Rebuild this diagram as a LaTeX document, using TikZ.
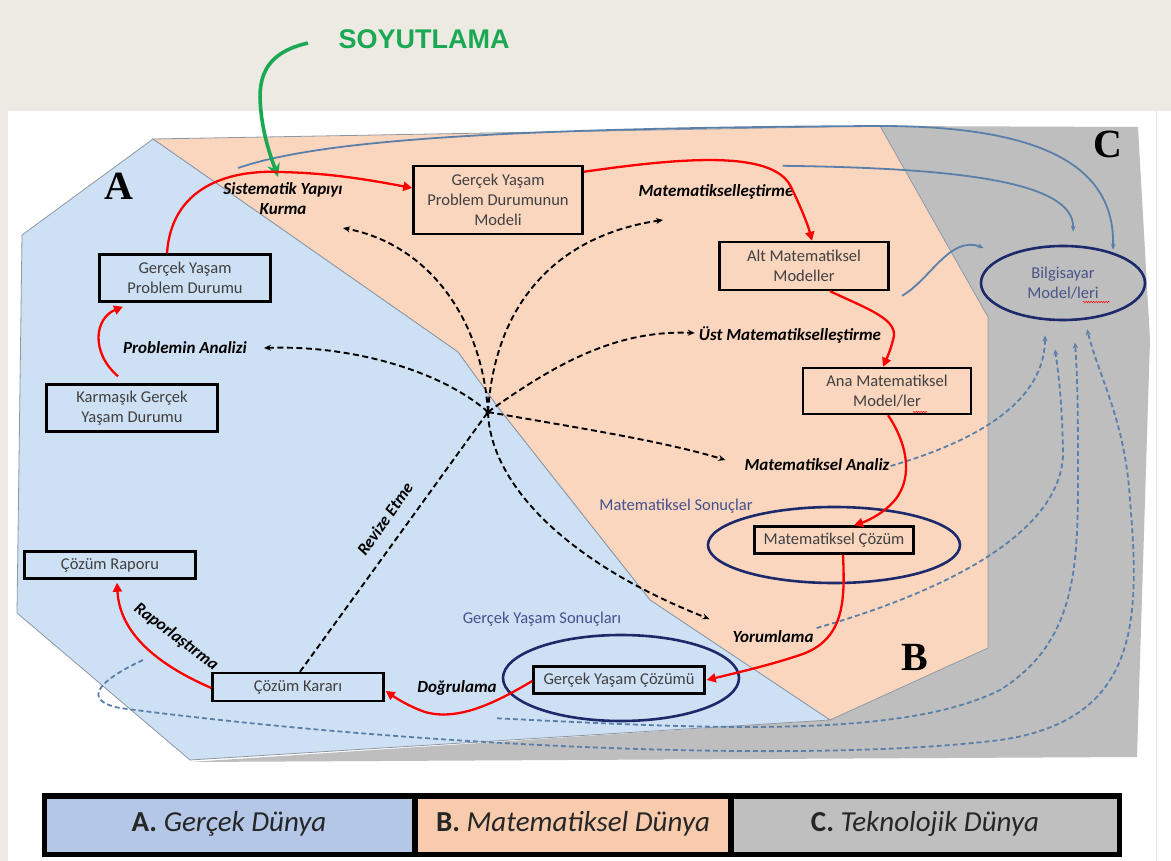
\documentclass[tikz,border=0pt]{standalone}
\usepackage{fontspec}
\setmainfont{Carlito}
\newfontfamily\headfont{Liberation Sans}
\newfontfamily\letterfont{Liberation Serif}
\usetikzlibrary{arrows.meta,shapes.geometric,calc,decorations.pathmorphing}

\definecolor{bandbg}{HTML}{EDEAE4}
\definecolor{realfill}{HTML}{CEE0F3}
\definecolor{mathfill}{HTML}{FAD6BF}
\definecolor{techfill}{HTML}{BEBEBE}
\definecolor{boxtext}{HTML}{404040}
\definecolor{navy}{HTML}{1C2A6B}
\definecolor{steel}{HTML}{5A80AA}
\definecolor{soygreen}{HTML}{1BA853}
\definecolor{legA}{HTML}{B4C7E7}
\definecolor{legB}{HTML}{F8CBAD}
\definecolor{legC}{HTML}{BFBFBF}
\definecolor{edgegray}{HTML}{8E98A4}
\definecolor{ringtext}{HTML}{44508F}

\tikzset{
  box/.style={draw=black, line width=2.4pt, inner sep=0pt, align=center,
    text=boxtext, font=\fontsize{16.5}{20}\selectfont},
  redarrow/.style={draw=red, line width=2.3pt, -{Triangle[length=9pt,width=9pt]}},
  hubline/.style={draw=black, line width=1.9pt, dash pattern=on 6pt off 3.5pt,
    -{Stealth[length=7pt,width=6pt]}},
  techline/.style={draw=steel, line width=1.8pt, -{Stealth[length=6pt,width=5pt]}},
  techdash/.style={techline, dash pattern=on 5pt off 3pt},
  act/.style={font=\fontsize{17}{20}\selectfont\bfseries\itshape, text=black, align=center, inner sep=1pt},
  ring/.style={ellipse, draw=navy, line width=2.6pt, inner sep=0pt},
  ringlabel/.style={font=\fontsize{16.5}{20}\selectfont, text=ringtext, align=center},
  worldletter/.style={font=\letterfont\bfseries\fontsize{40}{40}\selectfont, text=black},
  region/.style={draw=edgegray, line width=0.8pt},
  legcell/.style={font=\fontsize{29}{32}\selectfont, text=black!85},
  spell/.style={draw=red, line width=0.5pt, decorate,
    decoration={zigzag, amplitude=0.7pt, segment length=2.5pt}}
}

\begin{document}
\begin{tikzpicture}[x=1pt,y=-1pt]
\useasboundingbox (0,0) rectangle (1171,861);

% page background
\fill[white] (0,0) rectangle (1171,861);
\fill[bandbg] (0,0) rectangle (1171,111);
\fill[bandbg] (0,111) rectangle (8,861);
\draw[black!10, line width=0.6pt] (1156,111) -- (1156,861);

% the three worlds
\fill[techfill] (880,126) -- (1138,127) -- (1150,340) -- (1137,757) -- (190,762)
  -- (830,720) -- (988,648) -- (988,317) -- cycle;
\filldraw[fill=mathfill, region] (153,139) -- (880,126) -- (988,317) -- (988,648)
  -- (830,720) -- (650,600) -- (500,410) -- (458,352) -- cycle;
\filldraw[fill=realfill, region] (153,139) -- (458,352) -- (500,410) -- (650,600)
  -- (830,720) -- (190,760) -- (17,613) -- (22,235) -- cycle;

\node[worldletter] (wa) at (119,186) {A};
\node[worldletter] (wb) at (915,657) {B};
\node[worldletter] (wc) at (1108,144) {C};

% abstraction label
\node[font=\headfont\bfseries\fontsize{27}{30}\selectfont, text=soygreen] (soy) at (424,39) {SOYUTLAMA};

% result ellipses
\node[ring, minimum width=252pt, minimum height=76pt] (msr) at (834,545) {};
\node[ring, minimum width=236pt, minimum height=86pt] (gsr) at (621,678) {};
\node[ringlabel] (msl) at (676,506) {Matematiksel Sonuçlar};
\node[ringlabel] (gsl) at (542,619) {Gerçek Yaşam Sonuçları};

% computer models
\node[ring, minimum width=164pt, minimum height=74pt, ringlabel, text=navy!80!white] (bm) at (1063,283) {Bilgisayar\\Model/leri};
\draw[spell] (1083,302) -- (1110,302);

% boxes
\node[box, minimum width=171pt, minimum height=47pt] (karm) at (132,408) {Karmaşık Gerçek\\Yaşam Durumu};
\node[box, minimum width=171pt, minimum height=47pt] (gypd) at (185,278) {Gerçek Yaşam\\Problem Durumu};
\node[box, minimum width=169pt, minimum height=68pt] (model) at (498,200) {Gerçek Yaşam\\Problem Durumunun\\Modeli};
\node[box, minimum width=169pt, minimum height=48pt] (alt) at (804,266) {Alt Matematiksel\\Modeller};
\node[box, minimum width=168pt, minimum height=46pt] (ana) at (887,391) {Ana Matematiksel\\Model/ler};
\draw[spell] (913,412) -- (927,412);
\node[box, minimum width=159pt, minimum height=27pt] (matc) at (834,540) {Matematiksel Çözüm};
\node[box, minimum width=171pt, minimum height=27pt] (gyc) at (619,680) {Gerçek Yaşam Çözümü};
\node[box, minimum width=171pt, minimum height=28pt] (ck) at (298,687) {Çözüm Kararı};
\node[box, minimum width=171pt, minimum height=27pt] (rapor) at (110,565) {Çözüm Raporu};

% process labels
\node[act] (sys) at (283,199) {Sistematik Yapıyı\\Kurma};
\node[act] (pa) at (185,348) {Problemin Analizi};
\node[act] (mat) at (716,192) {Matematikselleştirme};
\node[act] (ust) at (790,335) {Üst Matematikselleştirme};
\node[act] (man) at (817,465) {Matematiksel Analiz};
\node[act] (yor) at (773,637) {Yorumlama};
\node[act] (dog) at (457,688) {Doğrulama};
\node[act, rotate=-37] (rap) at (176,637) {Raporlaştırma};
\node[act, rotate=55] (rev) at (385,519) {Revize Etme};

% technology connectors (solid)
\coordinate (techstart) at (238,168);
\draw[techline] (techstart) .. controls (320,140) and (500,128) .. (880,126)
  .. controls (1050,126) and (1115,170) .. ($(bm.north)+(50,5)$);
\draw[techline] ($(model.north east)+(199,1)$) .. controls (950,168) and (1075,180) .. ($(bm.north)+(10,-13)$);
\draw[techline] ($(ana.north)+(15,-71)$) .. controls (930,280) and (950,235) .. ($(bm.west)+(4,-35)$);

% technology connectors (dashed)
\coordinate (rapfoot) at (143,660);
\draw[techdash] ($(man.east)+(0,1)$) .. controls (980,440) and (1045,400) .. ($(bm.south)+(-18,14)$);
\draw[techdash] ($(yor.east)+(2,-9)$) .. controls (950,590) and (1065,530) .. (1063,450)
  .. controls (1062,400) and (1058,370) .. ($(bm.south)+(-8,28)$);
\draw[techdash] ($(gsr.south)+(-124,-4)$) .. controls (700,728) and (900,740) .. (1000,690)
  .. controls (1080,640) and (1078,560) .. (1078,460)
  .. controls (1078,400) and (1077,370) .. ($(bm.south)+(12,21)$);
\draw[techdash] (rapfoot) .. controls (100,680) and (80,700) .. (120,708)
  .. controls (400,745) and (800,765) .. (1000,740)
  .. controls (1140,720) and (1140,620) .. (1130,500)
  .. controls (1125,420) and (1100,380) .. ($(bm.south)+(24,8)$);

% abstraction arrow
\draw[soygreen, line width=3.6pt, -{Stealth[length=13pt,width=13pt]}]
  ($(soy.west)+(-27,4)$) .. controls (255,55) and (258,90) .. (262,120)
  .. controls (266,145) and (272,160) .. ($(sys.north)+(-5,-5)$);

% modelling cycle
\coordinate (hub) at (488,412);
\draw[redarrow] ($(karm.north)+(-14,-7)$) .. controls (90,352) and (95,318) .. ($(gypd.south)+(-62,4)$);
\draw[redarrow] ($(gypd.north)+(-18,0)$) .. controls (172,180) and (240,170) .. (280,172)
  .. controls (330,173) and (370,180) .. ($(model.west)+(0,-12)$);
\draw[redarrow] ($(model.north east)+(0,7)$) .. controls (680,158) and (770,150) .. (790,185)
  .. controls (800,205) and (808,225) .. ($(alt.north)+(8,0)$);
\draw[redarrow] ($(alt.south)+(26,0)$) .. controls (870,310) and (900,320) .. (893,340)
  .. controls (890,352) and (886,360) .. ($(ana.north)+(-4,0)$);
\draw[redarrow] ($(ana.south)+(1,0)$) .. controls (905,440) and (915,475) .. (895,500)
  .. controls (885,512) and (870,520) .. ($(matc.north)+(20,0)$);
\draw[redarrow] ($(matc.south)+(9,0)$) .. controls (845,600) and (845,640) .. (800,655)
  .. controls (770,665) and (740,672) .. ($(gyc.east)+(1,0)$);
\draw[redarrow] ($(gyc.west)+(0,1)$) .. controls (500,700) and (460,722) .. (425,712)
  .. controls (408,706) and (396,698) .. ($(ck.east)+(1,4)$);
\draw[redarrow] ($(ck.west)+(0,1)$) .. controls (170,670) and (120,640) .. ($(rapor.south)+(7,3)$);

% reflection lines from the hub
\draw[hubline] (hub) .. controls (482,320) and (430,245) .. (343,228);
\draw[hubline] (hub) .. controls (440,370) and (350,345) .. ($(pa.east)+(16,0)$);
\draw[hubline] (hub) .. controls (495,300) and (560,235) .. (663,220);
\draw[hubline] (hub) .. controls (560,360) and (620,330) .. ($(ust.west)+(-3,-2)$);
\draw[hubline] (hub) .. controls (560,425) and (660,440) .. ($(man.west)+(-18,-5)$);
\draw[hubline] (hub) .. controls (490,480) and (560,560) .. ($(yor.west)+(-22,-18)$);
\draw[black, line width=1.9pt, dash pattern=on 6pt off 3.5pt] ($(ck.north)+(2,0)$) -- (hub);
\fill[black] (hub) circle (2.5pt);

% legend
\fill[black] (42,793) rectangle (1122,857);
\fill[legA] (47,799) rectangle (412,852);
\fill[legB] (418,799) rectangle (728,852);
\fill[legC] (734,799) rectangle (1117,852);
\node[legcell] (la) at (229,824) {\textbf{A.} \textit{Gerçek Dünya}};
\node[legcell] (lb) at (573,824) {\textbf{B.} \textit{Matematiksel Dünya}};
\node[legcell] (lc) at (925,824) {\textbf{C.} \textit{Teknolojik Dünya}};
\end{tikzpicture}
\end{document}
